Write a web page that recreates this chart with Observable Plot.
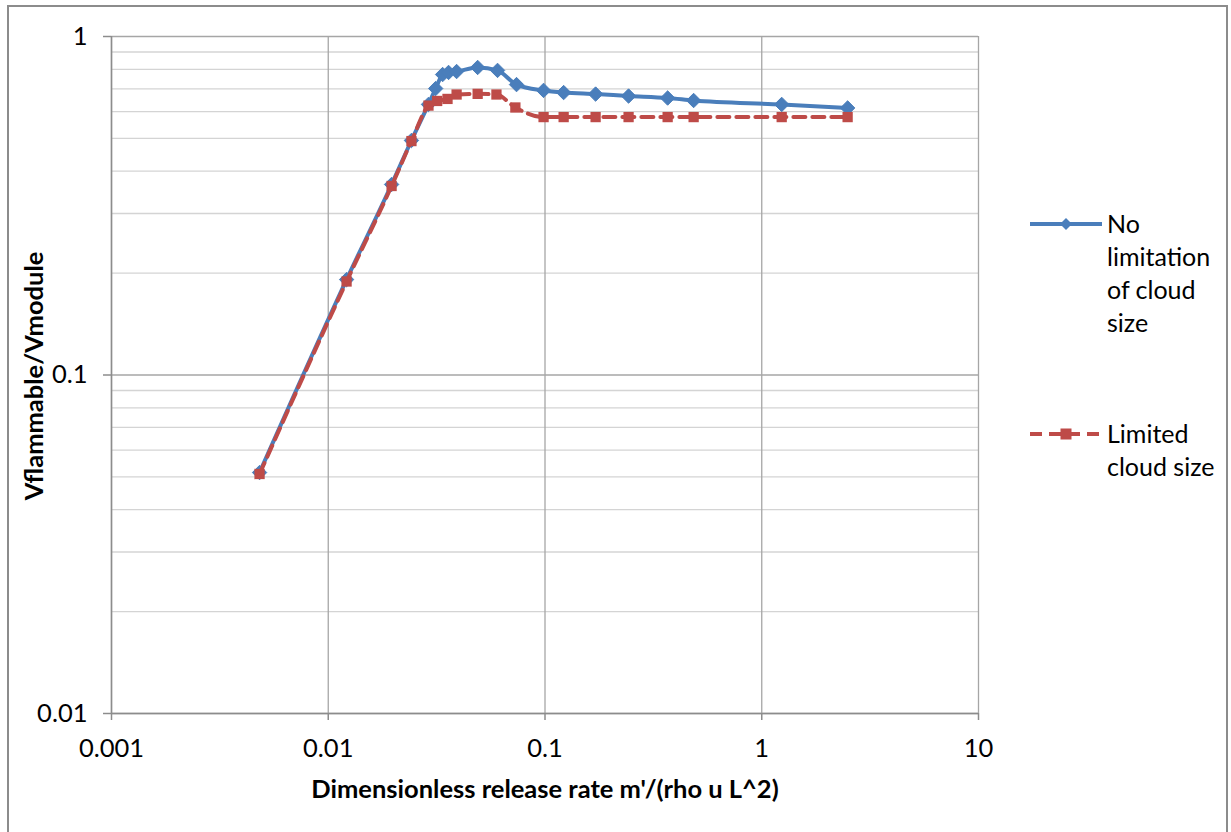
<!DOCTYPE html>
<html>
<head>
<meta charset="utf-8">
<script src="https://cdn.jsdelivr.net/npm/d3@7"></script>
<script src="https://cdn.jsdelivr.net/npm/@observablehq/plot@0.6"></script>
<style>
  html, body { margin: 0; padding: 0; background: #fff; }
  body { width: 1231px; height: 832px; position: relative; overflow: hidden; font-family: Lato, "Open Sans", sans-serif; }
  #frame { position: absolute; left: 7px; top: 5px; width: 1221px; height: 840px; border: 2px solid #8c8c8c; box-sizing: border-box; }
  #chart { position: absolute; left: 0; top: 0; }
  .lbl { position: absolute; font-weight: bold; font-size: 25.5px; color: #000; white-space: nowrap; }
  #xlab { left: 545px; top: 788px; transform: translate(-50%, -50%); }
  #ylab { left: 33px; top: 376px; transform: translate(-50%, -50%) rotate(-90deg); }
  .leg { position: absolute; font-size: 25px; line-height: 33px; color: #000; }
  .legsym { position: absolute; }
</style>
</head>
<body>
<div id="frame"></div>
<div id="chart"></div>
<div class="lbl" id="xlab">Dimensionless release rate m'/(rho u L^2)</div>
<div class="lbl" id="ylab">Vflammable/Vmodule</div>
<svg class="legsym" style="left:1028px;top:214px" width="76" height="20">
  <line x1="2" y1="10" x2="74" y2="10" stroke="#4a7ebb" stroke-width="4"/>
  <path d="M38,4 L44,10 L38,16 L32,10 Z" fill="#4a7ebb"/>
</svg>
<div class="leg" style="left:1107px;top:207px">No<br>limitation<br>of cloud<br>size</div>
<svg class="legsym" style="left:1028px;top:424px" width="76" height="20">
  <line x1="2" y1="10" x2="74" y2="10" stroke="#be4b48" stroke-width="4" stroke-dasharray="12,7"/>
  <rect x="32.5" y="4.5" width="11" height="11" fill="#be4b48"/>
</svg>
<div class="leg" style="left:1107px;top:417px">Limited<br>cloud size</div>
<script>
// Series: No limitation of cloud size
const noLimX = [0.00482, 0.01215, 0.0196, 0.0242, 0.0290, 0.0313, 0.0337, 0.0359, 0.0391, 0.0489, 0.0604, 0.0739, 0.0985, 0.1219, 0.1712, 0.243, 0.368, 0.485, 1.236, 2.49];
const noLimY = [0.0515, 0.1914, 0.3655, 0.493, 0.630, 0.702, 0.772, 0.783, 0.788, 0.810, 0.794, 0.721, 0.693, 0.683, 0.676, 0.667, 0.658, 0.647, 0.630, 0.615];
// Series: Limited cloud size
const limX = [0.00482, 0.01215, 0.0196, 0.0242, 0.0290, 0.0318, 0.0355, 0.0391, 0.0489, 0.0597, 0.0730, 0.0985, 0.1219, 0.1712, 0.243, 0.368, 0.485, 1.236, 2.49];
const limY = [0.0510, 0.1889, 0.3617, 0.491, 0.625, 0.645, 0.654, 0.674, 0.677, 0.674, 0.617, 0.578, 0.578, 0.578, 0.578, 0.578, 0.578, 0.578, 0.578];
// Axis ticks
const xTicks = [0.001, 0.01, 0.1, 1, 10];
const yTicks = [0.01, 0.1, 1];
const yMinor = [0.02, 0.03, 0.04, 0.05, 0.06, 0.07, 0.08, 0.09, 0.2, 0.3, 0.4, 0.5, 0.6, 0.7, 0.8, 0.9];

const noLim = noLimX.map((x, i) => ({x, y: noLimY[i]}));
const lim = limX.map((x, i) => ({x, y: limY[i]}));

const chart = Plot.plot({
  width: 1231,
  height: 832,
  marginLeft: 111,
  marginRight: 253,
  marginTop: 36,
  marginBottom: 119,
  style: {background: "transparent", fontFamily: "Lato, 'Open Sans', sans-serif", fontSize: "25.5px", color: "#000", overflow: "visible"},
  x: {type: "log", domain: [0.001, 10]},
  y: {type: "log", domain: [0.01, 1]},
  marks: [
    Plot.ruleY(yMinor, {stroke: "#d4d4d4", strokeWidth: 1.3}),
    Plot.ruleY(yTicks, {stroke: "#a6a6a6", strokeWidth: 1.3}),
    Plot.ruleX(xTicks, {stroke: "#a6a6a6", strokeWidth: 1.3}),
    Plot.ruleX([0.001], {stroke: "#8c8c8c", strokeWidth: 1.5}),
    Plot.ruleY([0.01], {stroke: "#8c8c8c", strokeWidth: 1.5}),
    Plot.axisX({ticks: xTicks, tickFormat: d => String(d), tickSize: 7, tickPadding: 18, stroke: "#8c8c8c", strokeWidth: 1.5, fontSize: 25.5, label: null, strokeOpacity: 1}),
    Plot.axisY({ticks: yTicks, tickFormat: d => String(d), tickSize: 8, tickPadding: 16, stroke: "#8c8c8c", strokeWidth: 1.5, fontSize: 25.5, label: null, strokeOpacity: 1}),
    Plot.line(noLim, {x: "x", y: "y", stroke: "#4a7ebb", strokeWidth: 4, curve: "monotone-x"}),
    Plot.dot(noLim, {x: "x", y: "y", symbol: "diamond2", r: 6.5, fill: "#4a7ebb", stroke: "#4a7ebb", strokeWidth: 1}),
    Plot.line(lim, {x: "x", y: "y", stroke: "#be4b48", strokeWidth: 4, strokeDasharray: "12,7", curve: "monotone-x"}),
    Plot.dot(lim, {x: "x", y: "y", symbol: "square", r: 5.8, fill: "#be4b48", stroke: "none"})
  ]
});
document.getElementById("chart").appendChild(chart);
</script>
</body>
</html>
